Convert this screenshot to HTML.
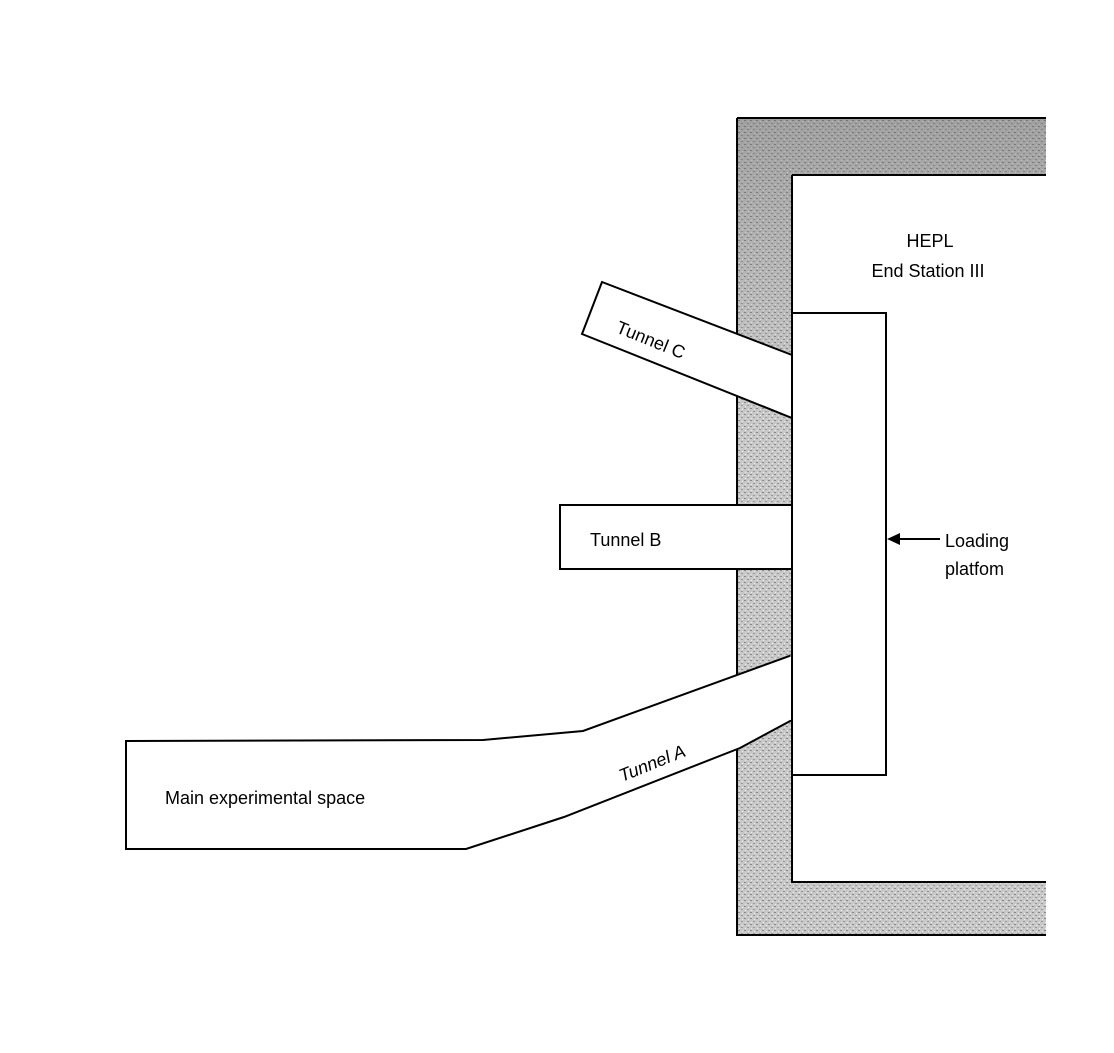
<!DOCTYPE html>
<html><head><style>html,body{margin:0;padding:0;background:#fff}</style></head>
<body>
<svg width="1114" height="1048" xmlns="http://www.w3.org/2000/svg" font-family="Liberation Sans, sans-serif" font-size="18">
<defs>
<pattern id="g" width="6" height="6" patternUnits="userSpaceOnUse">
<rect width="6" height="6" fill="#c8c8c8"/>
<rect x="0" y="0" width="2" height="1" fill="#888"/>
<rect x="3" y="3" width="2" height="1" fill="#999"/>
<rect x="4" y="1" width="1" height="1" fill="#eee"/>
<rect x="1" y="4" width="1" height="1" fill="#eee"/>
</pattern>
<linearGradient id="fade" x1="0" y1="0" x2="0" y2="1">
<stop offset="0" stop-color="#555" stop-opacity="0.35"/>
<stop offset="1" stop-color="#555" stop-opacity="0"/>
</linearGradient>
</defs>
<path d="M737 118 H1046 V175 H792 V882 H1046 V935 H737 Z" fill="url(#g)"/>
<path d="M737 118 H1046 V175 H792 V400 H737 Z" fill="url(#fade)"/>
<path d="M737 118 H1046 M792 175 H1046 M792 175 V882 H1046 M737 118 V935 H1046" fill="none" stroke="#000" stroke-width="2"/>
<rect x="792" y="313" width="94" height="462" fill="#fff" stroke="#000" stroke-width="2"/>
<polygon points="602,282 582,334 792,418 792,355" fill="#fff" stroke="#000" stroke-width="2"/>
<rect x="560" y="505" width="232" height="64" fill="#fff" stroke="#000" stroke-width="2"/>
<polygon points="126,741 483,740 583,731 792,655 792,720 740,748 564,817 466,849 126,849" fill="#fff" stroke="#000" stroke-width="2"/>
<line x1="792" y1="655" x2="792" y2="720" stroke="#fff" stroke-width="3"/>
<line x1="792" y1="650" x2="792" y2="775" stroke="#000" stroke-width="2"/>
<line x1="896" y1="539" x2="940" y2="539" stroke="#000" stroke-width="2"/>
<polygon points="887,539 900,533 900,545" fill="#000"/>
<text x="930" y="247" text-anchor="middle">HEPL</text>
<text x="928" y="277" text-anchor="middle">End Station III</text>
<text x="945" y="547">Loading</text>
<text x="945" y="575">platfom</text>
<text x="590" y="546">Tunnel B</text>
<text x="165" y="804">Main experimental space</text>
<text transform="translate(615,332) rotate(22)">Tunnel C</text>
<text transform="translate(622,782) rotate(-22)" font-style="italic">Tunnel A</text>
</svg>
</body></html>
